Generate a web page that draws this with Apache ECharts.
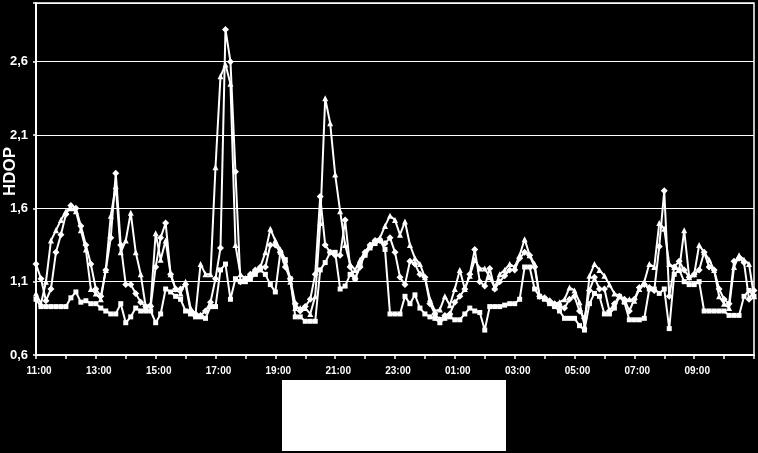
<!DOCTYPE html>
<html>
<head>
<meta charset="utf-8">
<script src="https://cdn.jsdelivr.net/npm/echarts@6/dist/echarts.min.js"></script>
<style>
html,body{margin:0;padding:0;background:#000;}
#c{width:758px;height:453px;}
</style>
</head>
<body>
<div id="c"></div>
<script>
// time labels: 10-minute steps from 11:00 to 11:00 next day
var startHour = 11;
var stepMinutes = 10;
var pointCount = 145;
var categories = [];
for (var k = 0; k < pointCount; k++) {
  var m = (startHour * 60 + k * stepMinutes) % 1440;
  var hh = Math.floor(m / 60), mm = m % 60;
  categories.push((hh < 10 ? '0' : '') + hh + ':' + (mm < 10 ? '0' : '') + mm);
}

var yTicks = [0.6, 1.1, 1.6, 2.1, 2.6];

var seriesDiamond = [
  1.22,1.12,0.97,1.05,1.30,1.42,
  1.56,1.62,1.60,1.48,1.35,1.22,
  1.05,1.00,1.18,1.40,1.84,1.35,
  1.08,1.08,1.02,0.96,0.93,0.93,
  1.20,1.40,1.50,1.15,1.05,1.05,
  1.08,0.90,0.88,0.87,0.90,0.96,
  1.12,1.33,2.82,2.60,1.85,1.10,
  1.12,1.15,1.18,1.20,1.20,1.35,
  1.35,1.30,1.20,1.12,0.95,0.90,
  0.93,0.98,1.15,1.68,1.35,1.30,
  1.28,1.28,1.52,1.20,1.12,1.20,
  1.30,1.35,1.38,1.38,1.36,1.40,
  1.30,1.13,1.08,1.24,1.22,1.15,
  1.13,0.95,0.88,0.84,0.87,0.88,
  0.96,1.00,1.05,1.15,1.32,1.10,
  1.07,1.19,1.05,1.10,1.14,1.18,
  1.18,1.26,1.30,1.28,1.20,1.00,
  0.99,0.97,0.95,0.93,0.92,0.98,
  1.00,0.90,0.85,1.04,1.13,1.05,
  1.05,0.90,0.95,1.00,0.98,0.90,
  0.98,1.06,1.08,1.06,1.04,1.34,
  1.72,1.00,1.20,1.24,1.18,1.13,
  1.15,1.18,1.30,1.20,1.18,1.05,
  0.98,0.95,1.24,1.26,1.23,0.98,1.04
];

var seriesTriangle = [
  1.02,0.95,1.10,1.38,1.45,1.52,
  1.58,1.60,1.58,1.45,1.32,1.05,
  1.02,0.98,1.18,1.55,1.75,1.30,
  1.38,1.57,1.30,1.15,0.93,0.95,
  1.43,1.25,1.38,1.15,1.05,1.02,
  1.10,0.92,0.88,1.22,1.15,1.15,
  1.88,2.50,2.58,2.45,1.35,1.15,
  1.12,1.15,1.18,1.20,1.30,1.46,
  1.38,1.32,1.25,1.10,0.92,0.92,
  0.92,0.88,1.00,1.50,2.35,2.18,
  1.83,1.58,1.35,1.22,1.18,1.25,
  1.30,1.35,1.38,1.40,1.48,1.55,
  1.52,1.42,1.51,1.35,1.26,1.22,
  1.13,0.98,0.90,0.91,1.00,0.94,
  1.05,1.18,1.05,1.14,1.25,1.19,
  1.19,1.13,1.06,1.15,1.18,1.22,
  1.20,1.28,1.39,1.28,1.22,1.00,
  0.99,0.97,0.95,0.96,0.98,1.06,
  1.04,0.96,0.80,1.14,1.22,1.18,
  1.14,1.08,1.02,1.00,0.97,0.98,
  0.97,1.05,1.10,1.22,1.20,1.50,
  1.46,1.22,1.20,1.18,1.45,1.13,
  1.15,1.35,1.30,1.25,1.18,1.00,
  0.95,0.92,1.20,1.28,1.25,1.22,1.00
];

var seriesSquare = [
  0.98,0.93,0.93,0.93,0.93,0.93,
  0.93,0.99,1.03,0.96,0.97,0.95,
  0.95,0.92,0.90,0.88,0.88,0.95,
  0.82,0.86,0.92,0.90,0.90,0.90,
  0.82,0.88,1.05,1.03,1.00,0.98,
  0.90,0.88,0.86,0.86,0.85,0.93,
  0.93,1.18,1.22,0.98,1.12,1.10,
  1.10,1.12,1.15,1.18,1.15,1.08,
  1.03,1.30,1.25,1.12,0.86,0.86,
  0.83,0.83,0.83,1.18,1.23,1.30,
  1.30,1.05,1.07,1.15,1.12,1.22,
  1.28,1.33,1.36,1.38,1.32,0.88,
  0.88,0.88,1.00,0.95,1.01,0.92,
  0.88,0.86,0.85,0.82,0.85,0.86,
  0.84,0.84,0.88,0.92,0.90,0.89,
  0.77,0.93,0.93,0.93,0.94,0.95,
  0.95,0.98,1.20,1.20,1.05,1.00,
  0.98,0.95,0.93,0.90,0.85,0.85,
  0.85,0.80,0.77,0.95,1.02,1.00,
  0.88,0.88,0.92,1.00,0.96,0.84,
  0.84,0.84,0.85,1.05,1.05,1.02,
  1.05,0.78,1.15,1.18,1.10,1.08,
  1.08,1.10,0.90,0.90,0.90,0.90,
  0.90,0.87,0.87,0.87,1.00,1.04,1.00
];

var chart = echarts.init(document.getElementById('c'), null, {renderer: 'canvas'});

function mkSeries(name, data, symbol, size) {
  return {
    name: name, type: 'line', data: data,
    symbol: symbol, symbolSize: size, showSymbol: true, showAllSymbol: true,
    lineStyle: {color: '#fff', width: 2},
    itemStyle: {color: '#fff', borderColor: '#fff', borderWidth: 0},
    animation: false, z: 3
  };
}

chart.setOption({
  backgroundColor: '#000',
  animation: false,
  grid: {left: 36, right: 4, top: 3, bottom: 98, show: true, borderColor: '#fff', borderWidth: 1.5, backgroundColor: 'transparent'},
  xAxis: {
    type: 'category', data: categories, boundaryGap: false,
    axisLine: {lineStyle: {color: '#fff', width: 2}},
    axisTick: {show: true, length: 4, lineStyle: {color: '#fff', width: 1.5}, interval: function (i) { return i % 6 === 0; }},
    axisLabel: {
      color: '#fff', fontFamily: 'Liberation Sans, Arial, sans-serif', fontWeight: 'bold', fontSize: 10, margin: 11,
      padding: [0, 0, 0, 6],
      interval: function (i) { return i % 12 === 0 && i < pointCount - 1; }
    },
    splitLine: {show: false}
  },
  yAxis: {
    type: 'value', min: 0.6, max: 3.0, interval: 0.5,
    axisLine: {show: true, lineStyle: {color: '#fff', width: 2}},
    axisTick: {show: true, length: 3, lineStyle: {color: '#fff', width: 1.5}},
    axisLabel: {
      color: '#fff', fontFamily: 'Liberation Sans, Arial, sans-serif', fontWeight: 'bold', fontSize: 13, margin: 8,
      formatter: function (v) {
        for (var j = 0; j < yTicks.length; j++) {
          if (Math.abs(yTicks[j] - v) < 1e-6) return yTicks[j].toFixed(1).replace('.', ',');
        }
        return '';
      }
    },
    splitLine: {show: true, lineStyle: {color: '#fff', width: 1.2}}
  },
  series: [
    mkSeries('Series 1', seriesDiamond, 'diamond', 7),
    mkSeries('Series 2', seriesSquare, 'rect', 5),
    mkSeries('Series 3', seriesTriangle, 'triangle', 6)
  ],
  graphic: [
    {type: 'text', left: 2, top: 147, rotation: Math.PI / 2, style: {text: 'HDOP', fill: '#fff', font: 'bold 17px "Liberation Sans", Arial, sans-serif'}, silent: true},
    {type: 'rect', shape: {x: 282, y: 380, width: 224, height: 71}, style: {fill: '#fff'}, silent: true}
  ]
});
</script>
</body>
</html>
